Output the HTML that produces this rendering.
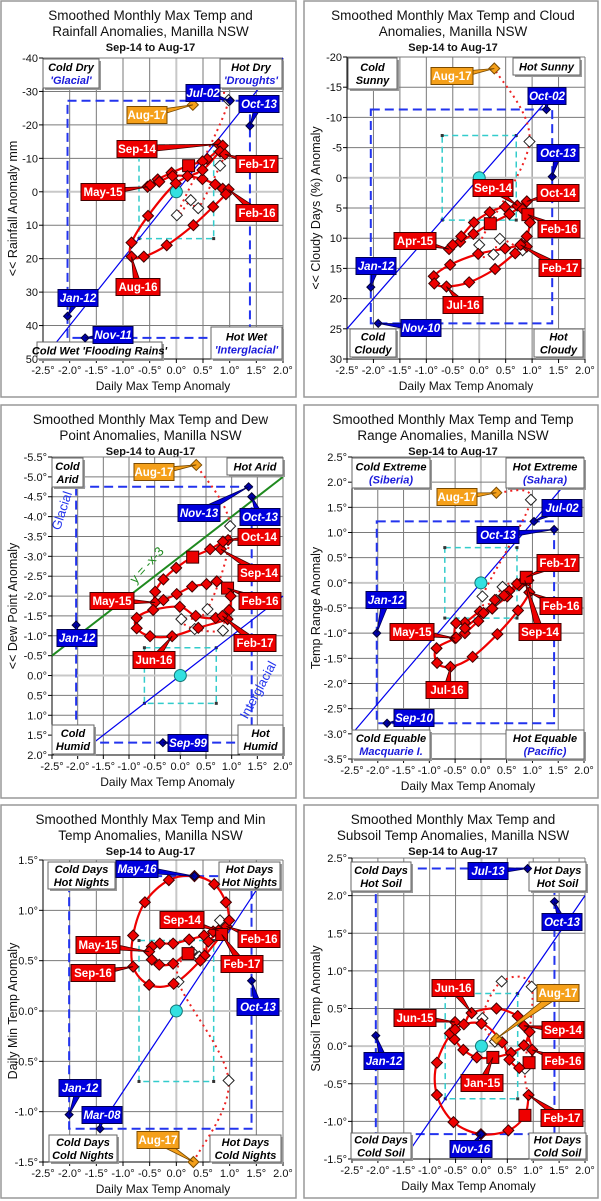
<!DOCTYPE html>
<html><head><meta charset="utf-8">
<style>
html,body{margin:0;padding:0;background:#fff;}
svg{display:block;font-family:"Liberation Sans",Arial,sans-serif;}
</style></head>
<body>
<svg id="root" width="601" height="1201" viewBox="0 0 601 1201" xmlns="http://www.w3.org/2000/svg"></svg>
<script>
// ---------- DATA ----------
const xTicks=[-2.5,-2.0,-1.5,-1.0,-0.5,0.0,0.5,1.0,1.5,2.0];
// Panel 1 rainfall
const p1LoopX=[0.79,0.87,0.58,0.49,0.23,-0.09,-0.35,-0.54,-0.49,-0.32,-0.07,0.21,0.49,0.73,0.87,0.98,0.93,0.69,0.32,-0.18,-0.61,-0.84,-0.84,-0.53,-0.01,0.49,0.82,0.91];
const p1LoopY=[-14.2,-13.8,-9.8,-9.1,-7.8,-5.7,-3.7,-1.5,-2.0,-3.0,-4.7,-4.7,-3.8,-2.2,-0.9,-0.7,0.7,4.5,10,16,19.4,19.4,15.2,7.2,-2.5,-6.5,-12,-11.2];
const p1OpenX=[0.82,0.41,0.27,0.01,0.98];
const p1OpenY=[-7.8,4.9,2.5,7,-27.4];
const p1AugX=[0.31], p1AugY=[-26];
const p1RecNames=['Jul-02','Oct-13','Jan-12','Nov-11'];
const p1RecX=[1.01,1.38,-2.04,-1.71];
const p1RecY=[-27.2,-19.7,37.2,43.7];
// Panel 2 cloud
const p2LoopX=[0.72,0.90,0.57,0.21,-0.11,-0.36,-0.57,-0.50,-0.34,-0.10,0.20,0.49,0.82,0.92,0.96,0.90,0.80,0.49,-0.02,-0.55,-0.86,-0.85,-0.62,-0.19,0.30,0.68,0.90,0.78];
const p2LoopY=[4.6,3.9,6.0,7.6,9.3,10.6,11.8,11.1,9.7,7.4,5.7,4.8,5.2,6.1,7.4,9.7,11.0,11.7,12.6,14.4,16.3,17.5,18.0,17.3,15.1,12.5,11.4,11.1];
const p2OpenX=[0.82,0.39,0.27,0.00,0.95];
const p2OpenY=[12.0,10.1,12.7,11.1,-6.0];
const p2AugX=[0.285], p2AugY=[-18.1];
const p2RecNames=['Oct-02','Oct-13','Jan-12','Nov-10'];
const p2RecX=[1.27,1.38,-2.05,-1.91];
const p2RecY=[-11.3,-0.2,18.1,24.1];
// Panel 3 dew point
const p3LoopX=[0.79,0.93,0.83,0.58,0.24,-0.08,-0.33,-0.49,-0.49,-0.33,-0.07,0.23,0.51,0.71,0.92,0.98,0.95,0.69,0.30,-0.01,-0.53,-0.85,-0.85,-0.59,-0.16,0.35,0.92,0.82];
const p3LoopY=[-3.18,-3.41,-3.37,-3.18,-2.98,-2.71,-2.42,-2.11,-1.84,-1.9,-2.05,-2.24,-2.3,-2.37,-2.2,-2.0,-1.65,-1.45,-1.5,-1.73,-1.65,-1.45,-1.19,-0.99,-0.99,-1.2,-1.42,-1.5];
const p3OpenX=[0.83,0.28,0.02,0.53,0.97];
const p3OpenY=[-1.13,-1.17,-1.42,-1.67,-3.76];
const p3AugX=[0.31], p3AugY=[-5.3];
const p3RecNames=['Nov-13','Oct-13','Jan-12','Sep-99'];
const p3RecX=[1.33,1.39,-2.03,-0.34];
const p3RecY=[-4.75,-4.5,-1.27,1.69];
// Panel 4 temp range
const p4LoopX=[0.85,0.76,0.55,0.27,0.22,-0.02,-0.31,-0.48,-0.5,-0.31,-0.05,0.22,0.51,0.74,0.92,0.94,0.72,0.32,-0.16,-0.59,-0.85,-0.86,-0.48,-0.31,0.05,0.45,0.7,0.88];
const p4LoopY=[0.05,-0.02,-0.16,-0.34,-0.51,-0.57,-0.79,-0.8,-1.1,-1.0,-0.76,-0.51,-0.27,-0.05,0.05,-0.19,-0.55,-1.02,-1.47,-1.67,-1.59,-1.3,-1.09,-0.9,-0.6,-0.25,-0.02,0.11];
const p4OpenX=[0.42,0.30,0.03,0.97];
const p4OpenY=[-0.08,-0.34,-0.27,1.65];
const p4AugX=[0.30], p4AugY=[1.79];
const p4RecNames=['Jul-02','Oct-13','Jan-12','Sep-10'];
const p4RecX=[1.03,1.42,-2.02,-1.82];
const p4RecY=[1.22,1.06,-1.0,-2.79];
// Panel 5 min temp
const p5LoopX=[0.79,0.69,0.52,0.24,-0.06,-0.31,-0.46,-0.51,-0.46,-0.32,-0.06,0.22,0.53,0.60,0.94,0.99,0.93,0.71,0.34,-0.14,-0.59,-0.81,-0.81,-0.51,-0.05,0.45,0.85];
const p5LoopY=[0.80,0.79,0.75,0.71,0.67,0.67,0.64,0.59,0.51,0.46,0.47,0.57,0.55,0.69,0.84,0.90,1.08,1.26,1.34,1.30,1.08,0.75,0.44,0.26,0.27,0.5,0.76];
const p5OpenX=[0.82,0.43,0.29,0.04,0.98];
const p5OpenY=[0.9,0.54,0.59,0.29,-0.69];
const p5AugX=[0.32], p5AugY=[-1.5];
const p5RecNames=['May-16','Oct-13','Jan-12','Mar-08'];
const p5RecX=[0.34,1.41,-2.01,-1.43];
const p5RecY=[1.34,0.30,-1.03,-1.17];
// Panel 6 subsoil
const p6LoopX=[0.93,0.82,0.57,0.22,-0.09,-0.35,-0.52,-0.61,-0.51,-0.34,-0.19,0.29,0.70,0.82,0.98,0.92,0.73,0.54,0.40,0.0,-0.51,-0.86,-0.86,-0.54,-0.01,0.52,0.84,0.91];
const p6LoopY=[0.19,0.01,-0.09,-0.15,-0.15,-0.05,0.09,0.17,0.32,0.29,0.44,0.5,0.40,0.27,-0.05,-0.22,-0.29,-0.18,0.05,0.3,0.22,-0.22,-0.65,-1.01,-1.17,-1.12,-0.92,-0.65];
const p6OpenX=[0.84,0.97,0.39,0.02,0.26];
const p6OpenY=[-0.30,0.79,0.86,0.37,0.06];
const p6AugX=[0.29], p6AugY=[0.1];
const p6RecNames=['Jul-13','Oct-13','Jan-12','Nov-16'];
const p6RecX=[0.89,1.41,-2.04,-0.01];
const p6RecY=[2.36,1.92,0.14,-1.17];

// ---------- RENDER ----------
const NS='http://www.w3.org/2000/svg';
const root=document.getElementById('root');
function mk(parent,tag,attrs,name){
  const el=document.createElementNS(NS,tag);
  for(const k in attrs) el.setAttribute(k,attrs[k]);
  
  
  parent.appendChild(el);return el;
}
function txt(parent,x,y,s,attrs,name){
  const a=Object.assign({x:x,y:y},attrs);
  const t=mk(parent,'text',a,name);t.textContent=s;return t;
}
function crPath(pts){
  if(pts.length<2)return '';
  let d='M'+pts[0][0].toFixed(1)+','+pts[0][1].toFixed(1);
  for(let i=0;i<pts.length-1;i++){
    const p0=pts[i-1]||pts[i],p1=pts[i],p2=pts[i+1],p3=pts[i+2]||p2;
    const c1=[p1[0]+(p2[0]-p0[0])/6,p1[1]+(p2[1]-p0[1])/6];
    const c2=[p2[0]-(p3[0]-p1[0])/6,p2[1]-(p3[1]-p1[1])/6];
    d+=' C'+c1[0].toFixed(1)+','+c1[1].toFixed(1)+' '+c2[0].toFixed(1)+','+c2[1].toFixed(1)+' '+p2[0].toFixed(1)+','+p2[1].toFixed(1);
  }
  return d;
}
function diamond(g,x,y,r,fill,stroke,name){
  return mk(g,'polygon',{points:`${x},${y-r} ${x+r},${y} ${x},${y+r} ${x-r},${y}`,fill:fill,stroke:stroke,'stroke-width':1},name);
}
const COLORS={red:['#ee0000','#400000','normal'],blue:['#0000dd','#000055','italic'],orange:['#f5a01a','#7a4a00','normal']};
function callout(g,text,cx,cy,w,kind,tx,ty){
  const c=COLORS[kind];const h=17;
  const dx=tx-cx,dy=ty-cy,len=Math.hypot(dx,dy)||1;
  const nx=-dy/len*4,ny=dx/len*4;
  mk(g,'polygon',{points:`${cx+nx},${cy+ny} ${tx},${ty} ${cx-nx},${cy-ny}`,fill:c[0],stroke:c[1],'stroke-width':0.8},'callout-pointer-'+text.toLowerCase());
  mk(g,'rect',{x:cx-w/2,y:cy-h/2,width:w,height:h,fill:c[0],stroke:c[1],'stroke-width':1},'callout-box-'+text.toLowerCase());
  txt(g,cx,cy+4,text,{'text-anchor':'middle','font-size':11.5,'font-weight':'bold','font-style':c[2],fill:'#fff'},'callout-label-'+text.toLowerCase());
}
function quad(g,b,name){
  mk(g,'rect',{x:b.x+2,y:b.y+2,width:b.w,height:b.h,fill:'#999'},name+'-shadow');
  mk(g,'rect',{x:b.x,y:b.y,width:b.w,height:b.h,fill:'#fff',stroke:'#666','stroke-width':1},name+'-box');
  const n=b.lines.length;
  b.lines.forEach((ln,i)=>{
    txt(g,b.x+b.w/2,b.y+b.h/2+4+(i-(n-1)/2)*13,ln[0],{'text-anchor':'middle','font-size':11,'font-weight':'bold','font-style':'italic',fill:ln[1]||'#000'},name+'-text');
  });
}
function fmtY(v,deg){ if(!deg) return String(Math.round(v)); return v.toFixed(1)+'°'; }

function drawPanel(P){
  const g=mk(root,'g',{},P.name);
  mk(g,'rect',{x:P.box[0],y:P.box[1],width:P.box[2],height:P.box[3],fill:'#fff',stroke:'#999','stroke-width':1.5},P.name+'-frame');
  const sx=v=>P.L+(v-(-2.5))/4.5*(P.R-P.L);
  const sy=v=>P.T+(v-P.yTop)/(P.yBot-P.yTop)*(P.B-P.T);
  const cx=(P.box[0]+P.box[0]+P.box[2])/2+2;
  txt(g,cx,P.box[1]+19,P.title[0],{'text-anchor':'middle','font-size':13.5,fill:'#111'},'chart-title-line1');
  txt(g,cx,P.box[1]+35,P.title[1],{'text-anchor':'middle','font-size':13.5,fill:'#111'},'chart-title-line2');
  txt(g,cx,P.box[1]+50,'Sep-14 to Aug-17',{'text-anchor':'middle','font-size':11,'font-weight':'bold',fill:'#111'},'chart-subtitle');
  const yt=[];const n=Math.round(Math.abs(P.yBot-P.yTop)/P.yStep);
  for(let i=0;i<=n;i++) yt.push(P.yTop+Math.sign(P.yBot-P.yTop)*i*P.yStep);
  xTicks.forEach(v=>{
    const x=sx(v);
    mk(g,'line',{x1:x,y1:P.T,x2:x,y2:P.B,stroke:Math.abs(v)<1e-9?'#c8c8c8':'#7a7a7a','stroke-width':Math.abs(v)<1e-9?2:1},'x-gridline');
    mk(g,'line',{x1:x,y1:P.B,x2:x,y2:P.B+4,stroke:'#000'},'x-tick');
    txt(g,x,P.B+15,v.toFixed(1)+'°',{'text-anchor':'middle','font-size':11,fill:'#111'},'x-tick-label');
  });
  yt.forEach(v=>{
    const y=sy(v);
    mk(g,'line',{x1:P.L,y1:y,x2:P.R,y2:y,stroke:Math.abs(v)<1e-9?'#c8c8c8':'#7a7a7a','stroke-width':Math.abs(v)<1e-9?2:1},'y-gridline');
    mk(g,'line',{x1:P.L-4,y1:y,x2:P.L,y2:y,stroke:'#000'},'y-tick');
    txt(g,P.L-5,y+4,fmtY(v,P.deg),{'text-anchor':'end','font-size':11,fill:'#111'},'y-tick-label');
  });
  mk(g,'line',{x1:P.L,y1:P.T,x2:P.L,y2:P.B,stroke:'#000'},'y-axis');
  mk(g,'line',{x1:P.L,y1:P.B,x2:P.R,y2:P.B,stroke:'#000'},'x-axis');
  txt(g,(P.L+P.R)/2,P.B+31,'Daily Max Temp Anomaly',{'text-anchor':'middle','font-size':12,fill:'#111'},'x-axis-title');
  const ytx=P.box[0]+16,yty=(P.T+P.B)/2;
  txt(g,ytx,yty,P.ytitle,{'text-anchor':'middle','font-size':12.5,fill:'#111',transform:`rotate(-90 ${ytx} ${yty})`},'y-axis-title');
  const rx0=sx(Math.min(...P.recX)),rx1=sx(Math.max(...P.recX));
  const ryA=sy(Math.min(...P.recY)),ryB=sy(Math.max(...P.recY));
  mk(g,'rect',{x:rx0,y:Math.min(ryA,ryB),width:rx1-rx0,height:Math.abs(ryB-ryA),fill:'none',stroke:'#2233ee','stroke-width':2,'stroke-dasharray':'9,5'},'record-range-box');
  const c0=sx(-P.sd[0]),c1=sx(P.sd[0]),d0=sy(-P.sd[1]),d1=sy(P.sd[1]);
  mk(g,'rect',{x:c0,y:Math.min(d0,d1),width:c1-c0,height:Math.abs(d1-d0),fill:'none',stroke:'#33cccc','stroke-width':1.5,'stroke-dasharray':'6,4'},'std-dev-box');
  [[c0,d0],[c1,d0],[c0,d1],[c1,d1]].forEach(p=>mk(g,'rect',{x:p[0]-1.5,y:p[1]-1.5,width:3,height:3,fill:'#333'},'std-box-corner'));
  if(P.extra) P.extra(g,sx,sy);
  mk(g,'line',{x1:sx(P.diag[0]),y1:sy(P.slope*P.diag[0]),x2:sx(P.diag[1]),y2:sy(P.slope*P.diag[1]),stroke:'#0000ee','stroke-width':1.2},'regression-line');
  P.quads.forEach(q=>quad(g,q,'quadrant-label'));
  const lastI=P.lx.length-1;
  const dpts=[[sx(P.lx[lastI]),sy(P.ly[lastI])]];
  P.ox.forEach((v,i)=>dpts.push([sx(v),sy(P.oy[i])]));
  dpts.push([sx(P.ax[0]),sy(P.ay[0])]);
  mk(g,'path',{d:crPath(dpts),fill:'none',stroke:'#ee2222','stroke-width':2,'stroke-dasharray':'2,4'},'recent-months-dotted-line');
  const lpts=P.lx.map((v,i)=>[sx(v),sy(P.ly[i])]);
  mk(g,'path',{d:crPath(lpts),fill:'none',stroke:'#ee0000','stroke-width':2.2},'smoothed-loop-line');
  mk(g,'circle',{cx:sx(0),cy:sy(0),r:6,fill:'#33e0e0',stroke:'#117777','stroke-width':1},'origin-marker');
  P.ox.forEach((v,i)=>diamond(g,sx(v),sy(P.oy[i]),5.5,'#fff','#222','recent-month-point'));
  P.lx.forEach((v,i)=>{
    const x=sx(v),y=sy(P.ly[i]);
    if(P.squares.includes(i)) mk(g,'rect',{x:x-6,y:y-6,width:12,height:12,fill:'#ee0000',stroke:'#400000','stroke-width':1},'loop-point-square');
    else diamond(g,x,y,5.5,'#ee0000','#400000','loop-point');
  });
  diamond(g,sx(P.ax[0]),sy(P.ay[0]),5.5,'#f5a01a','#7a4a00','aug-17-point');
  P.recX.forEach((v,i)=>diamond(g,sx(v),sy(P.recY[i]),4,'#0000aa','#000033','record-point'));
  P.labels.forEach(l=>{
    let tx,ty;
    if(l.k==='loop'){tx=sx(P.lx[l.i]);ty=sy(P.ly[l.i]);}
    else if(l.k==='rec'){tx=sx(P.recX[l.i]);ty=sy(P.recY[l.i]);}
    else {tx=sx(P.ax[0]);ty=sy(P.ay[0]);}
    const kind=l.k==='loop'?'red':(l.k==='rec'?'blue':'orange');
    const text=l.k==='rec'?P.recNames[l.i]:(l.t||'Aug-17');
    callout(g,text,l.cx,l.cy,l.w||42,kind,tx,ty);
  });
}

const BL='#1a1adb';
const panels=[
 {name:'rainfall-chart',box:[1,1,295,396],L:43,R:283,T:58,B:359,yTop:-40,yBot:50,yStep:10,deg:false,
  title:['Smoothed Monthly Max Temp and','Rainfall Anomalies, Manilla NSW'],ytitle:'<< Rainfall Anomaly mm',
  lx:p1LoopX,ly:p1LoopY,ox:p1OpenX,oy:p1OpenY,ax:p1AugX,ay:p1AugY,recX:p1RecX,recY:p1RecY,recNames:p1RecNames,
  sd:[0.7,14],slope:-20,diag:[-2.26,2.0],squares:[4],
  quads:[{x:43,y:59,w:56,h:29,lines:[['Cold Dry'],["'Glacial'",BL]]},{x:220,y:59,w:62,h:29,lines:[['Hot  Dry'],["'Droughts'",BL]]},
         {x:37,y:342,w:125,h:17,lines:[["Cold Wet 'Flooding Rains'"]]},{x:211,y:327,w:71,h:32,lines:[['Hot Wet'],["'Interglacial'",BL]]}],
  labels:[{k:'rec',i:0,cx:203,cy:93,w:34},{k:'rec',i:1,cx:259,cy:104,w:40},{k:'aug',cx:147,cy:115,w:40},{k:'loop',i:0,t:'Sep-14',cx:137,cy:149,w:40},
          {k:'loop',i:27,t:'Feb-17',cx:257,cy:164,w:42},{k:'loop',i:7,t:'May-15',cx:103,cy:192,w:44},{k:'loop',i:15,t:'Feb-16',cx:257,cy:213,w:42},
          {k:'loop',i:21,t:'Aug-16',cx:138,cy:287,w:44},{k:'rec',i:2,cx:78,cy:298,w:40},{k:'rec',i:3,cx:113,cy:335,w:40}]},
 {name:'cloud-chart',box:[304,1,294,396],L:347,R:585,T:57,B:359,yTop:-20,yBot:30,yStep:5,deg:false,
  title:['Smoothed Monthly Max Temp and Cloud','Anomalies, Manilla NSW'],ytitle:'<< Cloudy Days (%) Anomaly',
  lx:p2LoopX,ly:p2LoopY,ox:p2OpenX,oy:p2OpenY,ax:p2AugX,ay:p2AugY,recX:p2RecX,recY:p2RecY,recNames:p2RecNames,
  sd:[0.7,7],slope:-10,diag:[-2.5,1.2],squares:[3,13],
  quads:[{x:348,y:58,w:49,h:31,lines:[['Cold'],['Sunny']]},{x:513,y:58,w:67,h:17,lines:[['Hot  Sunny']]},
         {x:350,y:329,w:46,h:28,lines:[['Cold'],['Cloudy']]},{x:534,y:329,w:49,h:28,lines:[['Hot'],['Cloudy']]}],
  labels:[{k:'aug',cx:452,cy:76,w:42},{k:'rec',i:0,cx:547,cy:96,w:38},{k:'rec',i:1,cx:558,cy:153,w:42},{k:'loop',i:0,t:'Sep-14',cx:493,cy:188,w:40},
          {k:'loop',i:1,t:'Oct-14',cx:558,cy:193,w:42},{k:'loop',i:13,t:'Feb-16',cx:559,cy:229,w:42},{k:'loop',i:6,t:'Apr-15',cx:415,cy:241,w:42},
          {k:'rec',i:2,cx:376,cy:266,w:40},{k:'loop',i:27,t:'Feb-17',cx:560,cy:268,w:42},{k:'loop',i:22,t:'Jul-16',cx:463,cy:305,w:40},
          {k:'rec',i:3,cx:421,cy:328,w:40}]},
 {name:'dew-point-chart',box:[1,405,295,393],L:52,R:283,T:457,B:755,yTop:-5.5,yBot:2.0,yStep:0.5,deg:true,
  title:['Smoothed Monthly Max Temp and Dew','Point Anomalies, Manilla NSW'],ytitle:'<< Dew Point Anomaly',
  lx:p3LoopX,ly:p3LoopY,ox:p3OpenX,oy:p3OpenY,ax:p3AugX,ay:p3AugY,recX:p3RecX,recY:p3RecY,recNames:p3RecNames,
  sd:[0.7,0.7],slope:-1,diag:[-1.66,2.0],squares:[4,14],
  quads:[{x:52,y:458,w:31,h:29,lines:[['Cold'],['Arid']]},{x:227,y:458,w:56,h:17,lines:[['Hot  Arid']]},
         {x:52,y:725,w:42,h:29,lines:[['Cold'],['Humid']]},{x:238,y:725,w:45,h:29,lines:[['Hot'],['Humid']]}],
  extra:function(g,sx,sy){
    mk(g,'line',{x1:sx(-2.5),y1:sy(-0.5),x2:sx(2.0),y2:sy(-5.0),stroke:'#1f8a1f','stroke-width':2},'y-equals-minus-x-minus-3-line');
    txt(g,150,568,'y = -x-3',{'text-anchor':'middle','font-size':13,fill:'#1f8a1f',transform:'rotate(-48 150 568)'},'green-line-label');
    txt(g,66,512,'Glacial',{'text-anchor':'middle','font-size':13,fill:'#2233ee',transform:'rotate(-72 66 512)'},'glacial-label');
    txt(g,262,692,'Interglacial',{'text-anchor':'middle','font-size':13,fill:'#2233ee',transform:'rotate(-62 262 692)'},'interglacial-label');
  },
  labels:[{k:'aug',cx:154,cy:472,w:40},{k:'rec',i:0,cx:199,cy:513,w:42},{k:'rec',i:1,cx:260,cy:517,w:40},{k:'loop',i:1,t:'Oct-14',cx:259,cy:537,w:42},
          {k:'loop',i:0,t:'Sep-14',cx:259,cy:573,w:42},{k:'loop',i:8,t:'May-15',cx:112,cy:601,w:44},{k:'loop',i:14,t:'Feb-16',cx:260,cy:601,w:42},
          {k:'rec',i:2,cx:77,cy:638,w:40},{k:'loop',i:27,t:'Feb-17',cx:255,cy:643,w:42},{k:'loop',i:24,t:'Jun-16',cx:154,cy:660,w:42},
          {k:'rec',i:3,cx:188,cy:743,w:40}]},
 {name:'temp-range-chart',box:[304,405,294,393],L:352,R:584,T:457,B:759,yTop:2.5,yBot:-3.5,yStep:0.5,deg:true,
  title:['Smoothed Monthly Max Temp and Temp','Range Anomalies, Manilla NSW'],ytitle:'Temp Range Anomaly',
  lx:p4LoopX,ly:p4LoopY,ox:p4OpenX,oy:p4OpenY,ax:p4AugX,ay:p4AugY,recX:p4RecX,recY:p4RecY,recNames:p4RecNames,
  sd:[0.7,0.7],slope:1.2,diag:[-2.5,1.6],squares:[27],
  quads:[{x:352,y:458,w:78,h:30,lines:[['Cold Extreme'],['(Siberia)',BL]]},{x:506,y:458,w:78,h:30,lines:[['Hot  Extreme'],['(Sahara)',BL]]},
         {x:352,y:730,w:78,h:29,lines:[['Cold Equable'],['Macquarie I.',BL]]},{x:506,y:730,w:78,h:29,lines:[['Hot Equable'],['(Pacific)',BL]]}],
  labels:[{k:'aug',cx:457,cy:497,w:40},{k:'rec',i:0,cx:562,cy:508,w:40},{k:'rec',i:1,cx:498,cy:535,w:42},{k:'loop',i:27,t:'Feb-17',cx:558,cy:563,w:42},
          {k:'rec',i:2,cx:386,cy:600,w:40},{k:'loop',i:15,t:'Feb-16',cx:561,cy:606,w:42},{k:'loop',i:8,t:'May-15',cx:412,cy:632,w:44},
          {k:'loop',i:0,t:'Sep-14',cx:540,cy:632,w:42},{k:'loop',i:19,t:'Jul-16',cx:447,cy:690,w:42},{k:'rec',i:3,cx:414,cy:718,w:40}]},
 {name:'min-temp-chart',box:[1,805,295,393],L:43,R:283,T:860,B:1162,yTop:1.5,yBot:-1.5,yStep:0.5,deg:true,
  title:['Smoothed Monthly Max Temp and Min','Temp Anomalies, Manilla NSW'],ytitle:'Daily Min Temp Anomaly',
  lx:p5LoopX,ly:p5LoopY,ox:p5OpenX,oy:p5OpenY,ax:p5AugX,ay:p5AugY,recX:p5RecX,recY:p5RecY,recNames:p5RecNames,
  sd:[0.7,0.7],slope:0.8,diag:[-1.45,1.6],squares:[26,11],
  quads:[{x:48,y:862,w:67,h:27,lines:[['Cold  Days'],['Hot Nights']]},{x:219,y:862,w:61,h:27,lines:[['Hot  Days'],['Hot Nights']]},
         {x:49,y:1135,w:68,h:27,lines:[['Cold  Days'],['Cold Nights']]},{x:210,y:1135,w:71,h:27,lines:[['Hot  Days'],['Cold Nights']]}],
  labels:[{k:'rec',i:0,cx:137,cy:869,w:42},{k:'loop',i:0,t:'Sep-14',cx:182,cy:920,w:44},{k:'loop',i:14,t:'Feb-16',cx:259,cy:939,w:42},
          {k:'loop',i:7,t:'May-15',cx:98,cy:945,w:44},{k:'loop',i:26,t:'Feb-17',cx:242,cy:964,w:42},{k:'loop',i:22,t:'Sep-16',cx:93,cy:973,w:44},
          {k:'rec',i:1,cx:258,cy:1007,w:42},{k:'rec',i:2,cx:80,cy:1088,w:42},{k:'rec',i:3,cx:102,cy:1115,w:40},{k:'aug',cx:158,cy:1140,w:42}]},
 {name:'subsoil-temp-chart',box:[304,805,294,393],L:352,R:585,T:858,B:1159,yTop:2.5,yBot:-1.5,yStep:0.5,deg:true,
  title:['Smoothed Monthly Max Temp and','Subsoil Temp Anomalies, Manilla NSW'],ytitle:'Subsoil Temp Anomaly',
  lx:p6LoopX,ly:p6LoopY,ox:p6OpenX,oy:p6OpenY,ax:p6AugX,ay:p6AugY,recX:p6RecX,recY:p6RecY,recNames:p6RecNames,
  sd:[0.7,0.7],slope:1,diag:[-1.5,2.0],squares:[3,15,26],
  quads:[{x:351,y:862,w:60,h:29,lines:[['Cold Days'],['Hot Soil']]},{x:529,y:862,w:57,h:29,lines:[['Hot Days'],['Hot Soil']]},
         {x:351,y:1133,w:60,h:26,lines:[['Cold Days'],['Cold Soil']]},{x:529,y:1133,w:57,h:26,lines:[['Hot Days'],['Cold Soil']]}],
  labels:[{k:'rec',i:0,cx:488,cy:871,w:40},{k:'rec',i:1,cx:562,cy:922,w:40},{k:'loop',i:10,t:'Jun-16',cx:453,cy:988,w:42},
          {k:'aug',cx:558,cy:993,w:42},{k:'loop',i:8,t:'Jun-15',cx:415,cy:1018,w:42},{k:'loop',i:13,t:'Sep-14',cx:563,cy:1030,w:42},
          {k:'rec',i:2,cx:384,cy:1061,w:40},{k:'loop',i:14,t:'Feb-16',cx:563,cy:1061,w:42},{k:'loop',i:3,t:'Jan-15',cx:482,cy:1083,w:42},
          {k:'loop',i:27,t:'Feb-17',cx:562,cy:1118,w:42},{k:'rec',i:3,cx:471,cy:1149,w:42}]}
];
panels.forEach(drawPanel);
</script>
</body></html>
